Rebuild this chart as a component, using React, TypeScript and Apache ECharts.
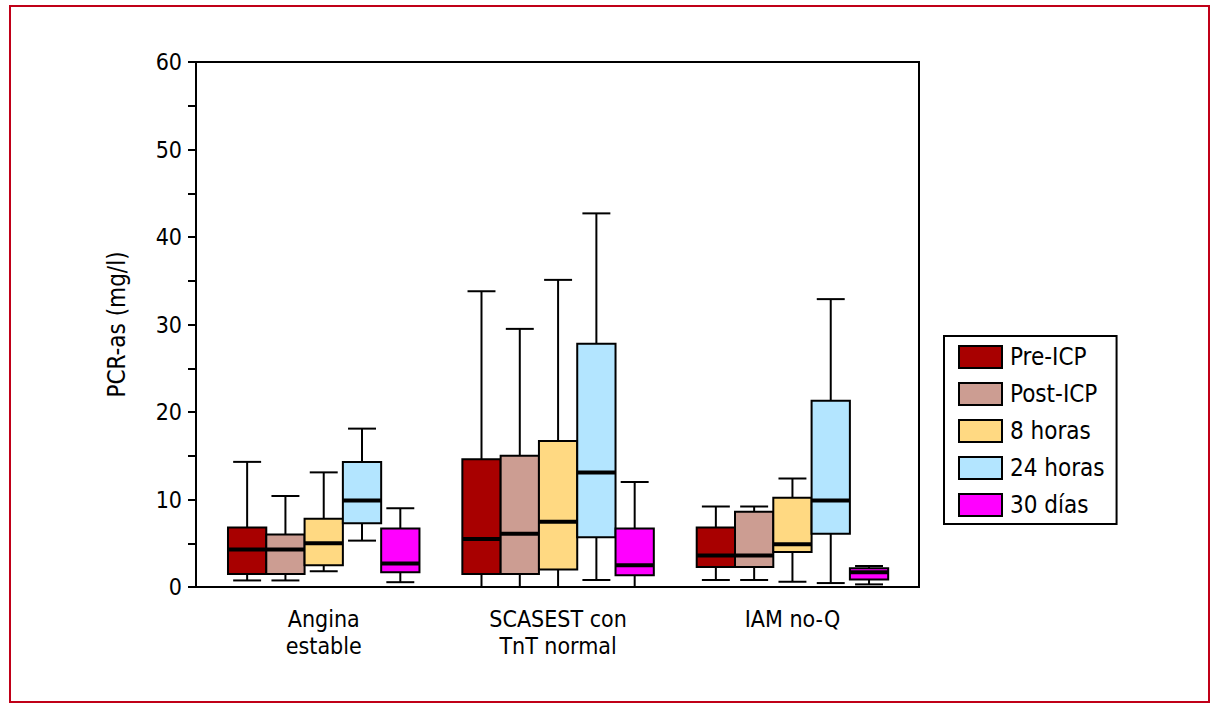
import React, { useEffect, useRef } from "react";
import * as echarts from "echarts";

const categories = ["Angina\nestable", "SCASEST con\nTnT normal", "IAM no-Q"];
const seriesNames = ["Pre-ICP", "Post-ICP", "8 horas", "24 horas", "30 días"];
const seriesColors = ["#A80000", "#CC9D92", "#FFD982", "#B3E5FF", "#FF00FF"];

// [low whisker, Q1, median, Q3, high whisker] per category
const preICP = [
  [0.75, 1.5, 4.3, 6.8, 14.3],
  [0, 1.5, 5.5, 14.6, 33.8],
  [0.8, 2.3, 3.6, 6.8, 9.2],
];
const postICP = [
  [0.75, 1.5, 4.3, 6.0, 10.4],
  [0, 1.5, 6.1, 15.0, 29.5],
  [0.8, 2.3, 3.6, 8.6, 9.2],
];
const horas8 = [
  [1.8, 2.5, 5.0, 7.8, 13.1],
  [0, 2.0, 7.45, 16.7, 35.1],
  [0.6, 4.0, 4.9, 10.2, 12.4],
];
const horas24 = [
  [5.3, 7.3, 9.9, 14.3, 18.1],
  [0.8, 5.7, 13.1, 27.8, 42.7],
  [0.45, 6.1, 9.9, 21.3, 32.9],
];
const dias30 = [
  [0.55, 1.7, 2.7, 6.7, 9.0],
  [0, 1.35, 2.5, 6.7, 12.0],
  [0.3, 0.85, 1.7, 2.15, 2.4],
];
const allSeries = [preICP, postICP, horas8, horas24, dias30];
const yTicks = [0, 10, 20, 30, 40, 50, 60];

const FONT = "'DejaVu Sans Condensed', 'Liberation Sans Narrow', 'Arial Narrow', sans-serif";
const BOX_W = 0.1634; // box width in category units
const CAP_RATIO = 0.73;

export default function App() {
  const ref = useRef<HTMLDivElement>(null);

  useEffect(() => {
    if (!ref.current) return;
    const chart = echarts.init(ref.current, null, { renderer: "svg" });

    const series = allSeries.map((arr, si) => ({
      type: "custom",
      name: seriesNames[si],
      itemStyle: { color: seriesColors[si] },
      data: arr.map((d, ci) => [ci + 1, ...d]),
      encode: { x: 0, y: [1, 2, 3, 4, 5] },
      renderItem: (params: any, api: any) => {
        const cat = api.value(0);
        const off = si - 2;
        const cx = cat + off * BOX_W;
        const xL = api.coord([cx - BOX_W / 2, 0])[0];
        const xR = api.coord([cx + BOX_W / 2, 0])[0];
        const xC = api.coord([cx, 0])[0];
        const capHalf = ((xR - xL) * CAP_RATIO) / 2;
        const y = (i: number) => api.coord([cx, api.value(i)])[1];
        const yLow = y(1), yQ1 = y(2), yMed = y(3), yQ3 = y(4), yHigh = y(5);
        const ls = { stroke: "#000", lineWidth: 2 };
        return {
          type: "group",
          children: [
            { type: "line", shape: { x1: xC, y1: yHigh, x2: xC, y2: yQ3 }, style: ls },
            { type: "line", shape: { x1: xC - capHalf, y1: yHigh, x2: xC + capHalf, y2: yHigh }, style: ls },
            { type: "line", shape: { x1: xC, y1: yQ1, x2: xC, y2: yLow }, style: ls },
            { type: "line", shape: { x1: xC - capHalf, y1: yLow, x2: xC + capHalf, y2: yLow }, style: ls },
            {
              type: "rect",
              shape: { x: xL, y: yQ3, width: xR - xL, height: yQ1 - yQ3 },
              style: { fill: seriesColors[si], stroke: "#000", lineWidth: 2 },
            },
            { type: "line", shape: { x1: xL, y1: yMed, x2: xR, y2: yMed }, style: { stroke: "#000", lineWidth: 4 } },
          ],
        };
      },
    }));

    chart.setOption({
      animation: false,
      backgroundColor: "#fff",
      textStyle: { fontFamily: FONT },
      graphic: [
        {
          type: "rect",
          shape: { x: 10, y: 6, width: 1199, height: 696 },
          style: { fill: "none", stroke: "#C00018", lineWidth: 2 },
          silent: true,
        },
      ],
      grid: {
        left: 196,
        top: 62,
        width: 723,
        height: 525,
        show: true,
        borderColor: "#000",
        borderWidth: 2,
        backgroundColor: "transparent",
      },
      legend: {
        orient: "vertical",
        left: 944,
        top: 336,
        data: seriesNames.map((n) => ({ name: n, icon: "rect" })),
        itemWidth: 43,
        itemHeight: 22,
        itemGap: 13,
        padding: [9, 12, 7, 14],
        borderColor: "#000",
        borderWidth: 2,
        itemStyle: { borderColor: "#000", borderWidth: 2 },
        textStyle: { fontFamily: FONT, fontSize: 24, color: "#000", padding: [0, 0, 0, 3] },
        selectedMode: false,
      },
      xAxis: {
        type: "value",
        min: 0.455,
        max: 3.54,
        axisLine: { show: true, lineStyle: { color: "#000", width: 2 } },
        axisTick: { show: false },
        splitLine: { show: false },
        axisLabel: {
          customValues: [1, 2, 3],
          formatter: (v: number) => categories[Math.round(v) - 1] ?? "",
          fontFamily: FONT,
          fontSize: 23,
          lineHeight: 27,
          color: "#000",
          margin: 18,
        },
      },
      yAxis: {
        type: "value",
        min: 0,
        max: 60,
        interval: 10,
        name: "PCR-as (mg/l)",
        nameLocation: "middle",
        nameRotate: 90,
        nameGap: 67,
        nameTextStyle: { fontFamily: FONT, fontSize: 24, color: "#000" },
        axisLine: { show: true, lineStyle: { color: "#000", width: 2 } },
        axisTick: { show: true, inside: false, length: 8, lineStyle: { color: "#000", width: 2 } },
        minorTick: { show: true, splitNumber: 2, length: 8, lineStyle: { color: "#000", width: 2 } },
        splitLine: { show: false },
        axisLabel: {
          formatter: (v: number) => (yTicks.includes(v) ? String(v) : ""),
          fontFamily: FONT,
          fontSize: 23,
          color: "#000",
          margin: 14,
        },
      },
      series,
    });

    return () => chart.dispose();
  }, []);

  return (
    <div
      ref={ref}
      style={{ position: "fixed", left: 0, top: 0, width: 1224, height: 716, background: "#fff" }}
    />
  );
}
